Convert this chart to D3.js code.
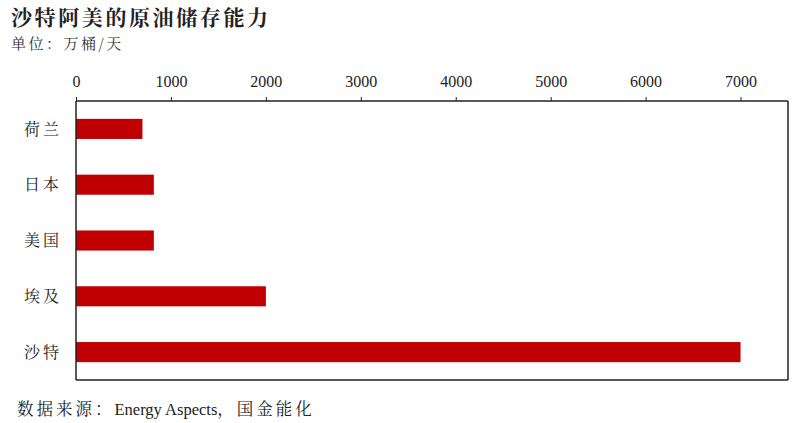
<!DOCTYPE html>
<html><head><meta charset="utf-8">
<script src="https://cdn.jsdelivr.net/npm/d3@7/dist/d3.min.js"></script>
<style>
body{margin:0;background:#fff;}
svg{display:block;}
</style></head>
<body>
<svg id="c" width="800" height="423"></svg>
<script>
const categories = ["荷兰","日本","美国","埃及","沙特"];
const values = [700, 820, 820, 2000, 7000];
const tickValues = [0,1000,2000,3000,4000,5000,6000,7000];

const cjk = "'Noto Serif CJK SC','Noto Sans CJK SC',serif";
const latin = "'Liberation Serif','DejaVu Serif',serif";
const svg = d3.select("#c");
const m = {left:76, right:788, top:101, bottom:380};

const x = d3.scaleLinear().domain([0,7500]).range([m.left, m.right]);
const y = d3.scaleBand().domain(categories).range([m.top, m.bottom]).paddingInner(0.64).paddingOuter(0.32);

svg.append("text").attr("x",11).attr("y",25).text("沙特阿美的原油储存能力")
  .attr("font-family",cjk).attr("font-size",21).attr("font-weight","bold").attr("fill","#222").attr("letter-spacing",2.6);
svg.append("text").attr("x",11).attr("y",49).text("单位：万桶/天")
  .attr("font-family",cjk).attr("font-size",15).attr("fill","#333").attr("letter-spacing",2.5);

// bars
svg.append("g").selectAll("rect").data(categories).join("rect")
  .attr("x", x(0)).attr("y", d=>y(d))
  .attr("width", (d,i)=>x(values[i])-x(0)).attr("height", y.bandwidth())
  .attr("fill","#C00000");

// frame
const frame = svg.append("g").attr("stroke","#222").attr("stroke-width",1.5).attr("fill","none");
frame.append("line").attr("x1",m.left).attr("x2",m.left).attr("y1",m.top).attr("y2",m.bottom);
frame.append("line").attr("x1",m.left).attr("x2",m.right).attr("y1",m.bottom).attr("y2",m.bottom);
frame.append("line").attr("x1",m.right).attr("x2",m.right).attr("y1",m.top).attr("y2",m.bottom);

// top axis
const ax = svg.append("g").attr("transform",`translate(0,${m.top})`)
  .call(d3.axisTop(x).tickValues(tickValues).tickSize(4).tickPadding(10).tickSizeOuter(0).tickFormat(d3.format("d")));
ax.select(".domain").attr("stroke","#222").attr("stroke-width",1.5).attr("d",`M${m.left},0H${m.right}`);
ax.selectAll(".tick line").attr("stroke","#222");
ax.selectAll(".tick text").attr("font-family",latin).attr("font-size",16).attr("fill","#222");

// category labels
svg.append("g").selectAll("text").data(categories).join("text")
  .attr("x",62).attr("y",d=>y(d)+y.bandwidth()/2).attr("dy","0.35em")
  .attr("text-anchor","end").text(d=>d)
  .attr("font-family",cjk).attr("font-size",16).attr("fill","#222").attr("letter-spacing",3);

// source
const src = svg.append("text").attr("x",17).attr("y",415).attr("font-size",16.5).attr("fill","#222");
src.append("tspan").attr("font-family",cjk).attr("letter-spacing",3).text("数据来源：");
src.append("tspan").attr("font-family",latin).text("Energy Aspects");
src.append("tspan").attr("font-family",cjk).attr("letter-spacing",3).text("，国金能化");
</script>
</body></html>
